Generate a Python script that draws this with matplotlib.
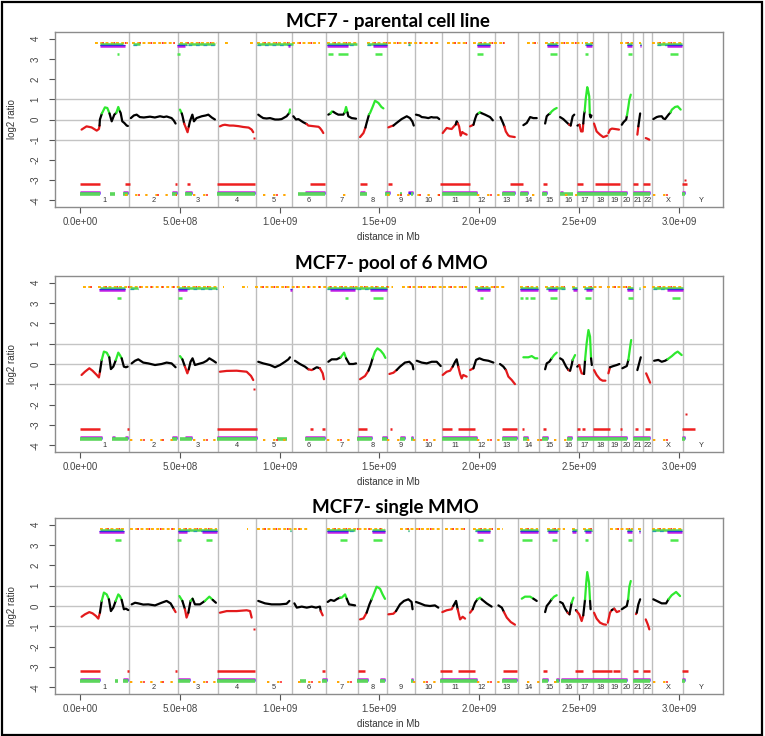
import matplotlib
matplotlib.use('Agg')
import matplotlib.pyplot as plt
from matplotlib.patches import Rectangle

chrom_names = ['1', '2', '3', '4', '5', '6', '7', '8', '9', '10', '11', '12', '13',
               '14', '15', '16', '17', '18', '19', '20', '21', '22', 'X', 'Y']
chrom_len_mb = [247.2, 242.95, 199.5, 191.27, 180.86, 170.9, 158.8, 146.27, 140.27,
                135.37, 134.45, 132.35, 114.14, 106.37, 100.34, 88.83, 78.77, 76.12,
                63.81, 62.44, 46.94, 49.69, 154.91, 178.0]

titles = ['MCF7 - parental cell line', 'MCF7- pool of 6 MMO', 'MCF7- single MMO']
x_ticks = [0, 5e8, 1e9, 1.5e9, 2e9, 2.5e9, 3e9]
x_tick_labels = ['0.0e+00', '5.0e+08', '1.0e+09', '1.5e+09', '2.0e+09', '2.5e+09', '3.0e+09']
y_ticks = [-4, -3, -2, -1, 0, 1, 2, 3, 4]

# smoothed log2 ratio, pieces of (call, [(Mb, log2)])
p1_curve = [
    ('r', [(8, -0.5), (33, -0.34), (58, -0.39), (84, -0.55), (95, -0.47), (98, -0.3)]),
    ('k', [(98, -0.3), (100, 0.0), (110, 0.3)]),
    ('g', [(110, 0.3), (125, 0.6), (137, 0.57), (148, 0.3)]),
    ('k', [(148, 0.3), (159, -0.09), (172, 0.24), (182, 0.33)]),
    ('g', [(182, 0.33), (192, 0.62), (200, 0.4)]),
    ('k', [(200, 0.4), (204, 0.32), (212, -0.09), (222, -0.17), (234, -0.3), (240, -0.32)]),
    ('k', [(255, 0.07), (270, 0.2), (284, 0.24), (300, 0.12), (320, 0.1), (351, 0.14), (375, 0.1),
           (401, 0.16), (420, 0.12), (434, 0.15), (459, 0.07), (470, -0.05), (479, -0.2)]),
    ('g', [(501, 0.49), (510, 0.3)]),
    ('k', [(510, 0.3), (514, 0.16), (522, -0.2)]),
    ('r', [(522, -0.2), (530, -0.4), (539, -0.63), (545, -0.35)]),
    ('k', [(545, -0.35), (551, -0.09), (563, 0.24), (571, -0.09), (584, 0.07), (610, 0.16),
           (630, 0.2), (643, 0.24), (660, 0.1), (676, 0.0)]),
    ('r', [(701, -0.34), (715, -0.28), (726, -0.26), (750, -0.3), (768, -0.3), (795, -0.33),
           (818, -0.37), (845, -0.4), (860, -0.5), (868, -0.63)]),
    ('k', [(893, 0.24), (905, 0.15), (918, 0.07), (935, 0.05), (952, 0.07), (977, 0.0), (995, 0.0),
           (1010, 0.02), (1035, 0.16), (1049, 0.33)]),
    ('g', [(1049, 0.33), (1052, 0.5)]),
    ('k', [(1069, 0.16), (1082, 0.0), (1094, 0.02), (1105, -0.05), (1119, -0.14), (1135, -0.22)]),
    ('r', [(1135, -0.22), (1144, -0.3), (1160, -0.32), (1177, -0.34), (1195, -0.36), (1202, -0.42),
           (1212, -0.55), (1219, -0.67)]),
    ('k', [(1244, 0.24), (1255, 0.3)]),
    ('g', [(1255, 0.3), (1262, 0.4), (1269, 0.38)]),
    ('k', [(1269, 0.38), (1282, 0.3), (1294, 0.24), (1319, 0.24), (1326, 0.35)]),
    ('g', [(1326, 0.35), (1333, 0.62), (1340, 0.35)]),
    ('k', [(1340, 0.35), (1344, 0.16), (1361, 0.07), (1383, 0.04)]),
    ('r', [(1403, -0.87), (1420, -0.67), (1430, -0.4)]),
    ('k', [(1430, -0.4), (1436, -0.17), (1448, 0.25)]),
    ('g', [(1448, 0.25), (1453, 0.32), (1465, 0.6), (1478, 0.93), (1495, 0.82), (1510, 0.62), (1520, 0.55)]),
    ('r', [(1545, -0.39), (1560, -0.33), (1570, -0.3)]),
    ('k', [(1570, -0.3), (1586, -0.17), (1611, 0.02), (1637, 0.16), (1653, 0.07), (1665, -0.1), (1672, -0.3)]),
    ('k', [(1683, 0.24), (1700, 0.2), (1712, 0.12), (1730, 0.1), (1745, 0.07), (1760, 0.12), (1770, 0.1),
           (1790, 0.1), (1800, 0.02)]),
    ('r', [(1817, -0.67), (1837, -0.42), (1850, -0.45), (1862, -0.47), (1875, -0.32), (1882, -0.25)]),
    ('k', [(1882, -0.25), (1887, -0.09), (1893, -0.2)]),
    ('r', [(1893, -0.2), (1899, -0.34), (1907, -0.8), (1915, -0.62), (1921, -0.67), (1937, -0.75)]),
    ('r', [(1954, -0.34), (1971, -0.26)]),
    ('k', [(1971, -0.26), (1980, 0.05), (1987, 0.24), (1998, 0.32)]),
    ('g', [(1998, 0.32), (2004, 0.37), (2010, 0.32)]),
    ('k', [(2010, 0.32), (2029, 0.24), (2054, 0.12), (2068, -0.04)]),
    ('k', [(2106, 0.12), (2119, -0.17), (2126, -0.35)]),
    ('r', [(2126, -0.35), (2133, -0.59), (2145, -0.78), (2153, -0.83), (2178, -0.87)]),
    ('k', [(2221, -0.28), (2238, -0.17), (2255, 0.12), (2271, 0.07), (2288, 0.07)]),
    ('k', [(2330, -0.2), (2338, 0.16), (2346, 0.24), (2355, 0.3)]),
    ('g', [(2355, 0.3), (2363, 0.4), (2375, 0.5), (2388, 0.57)]),
    ('k', [(2405, 0.12), (2421, 0.02), (2438, -0.14), (2450, -0.25)]),
    ('r', [(2450, -0.25), (2458, -0.3)]),
    ('k', [(2458, -0.3), (2468, 0.16), (2476, 0.24)]),
    ('k', [(2492, -0.3), (2502, -0.26)]),
    ('r', [(2502, -0.26), (2510, -0.59), (2518, -0.59), (2521, -0.2)]),
    ('k', [(2521, -0.2), (2525, 0.24), (2528, 0.4)]),
    ('g', [(2528, 0.4), (2533, 0.98), (2541, 1.6), (2546, 1.4), (2551, 1.15), (2554, 0.24)]),
    ('k', [(2554, 0.24), (2558, 0.1), (2562, 0.2)]),
    ('r', [(2575, -0.2), (2588, -0.59), (2605, -0.75), (2621, -0.87), (2633, -0.83), (2640, -0.8)]),
    ('r', [(2647, -0.67), (2655, -0.5), (2665, -0.45), (2680, -0.47), (2700, -0.5)]),
    ('k', [(2714, -0.26), (2722, -0.14), (2736, 0.0), (2740, 0.2)]),
    ('g', [(2740, 0.2), (2742, 0.32), (2748, 0.7), (2752, 0.98), (2759, 1.23)]),
    ('r', [(2792, -0.75), (2797, -0.34)]),
    ('k', [(2797, -0.34), (2802, 0.02), (2806, 0.3)]),
    ('r', [(2834, -0.92), (2842, -0.95), (2852, -1.0)]),
    ('k', [(2872, 0.02), (2889, 0.12), (2900, 0.15), (2914, 0.16), (2922, 0.05), (2931, 0.02),
           (2948, 0.24), (2958, 0.35)]),
    ('g', [(2958, 0.35), (2965, 0.49), (2981, 0.62), (2994, 0.65), (3009, 0.49)]),
]

p2_curve = [
    ('r', [(8, -0.54), (25, -0.38), (47, -0.21), (63, -0.33), (84, -0.54), (95, -0.66), (100, -0.38)]),
    ('k', [(100, -0.38), (109, 0.2)]),
    ('g', [(109, 0.2), (120, 0.61), (134, 0.56), (147, 0.33)]),
    ('k', [(147, 0.33), (155, -0.25), (167, -0.13), (180, 0.2)]),
    ('g', [(180, 0.2), (192, 0.56), (200, 0.44), (209, 0.28)]),
    ('k', [(209, 0.28), (220, -0.13), (230, -0.16), (239, -0.13)]),
    ('k', [(259, 0.03), (276, 0.16), (292, 0.23), (317, 0.07), (342, 0.03), (376, -0.05), (409, 0.0),
           (434, 0.07), (459, 0.03), (479, -0.16)]),
    ('g', [(501, 0.39), (513, 0.23)]),
    ('k', [(513, 0.23), (526, -0.13)]),
    ('r', [(526, -0.13), (538, -0.46), (545, -0.26)]),
    ('k', [(545, -0.26), (554, 0.11), (564, 0.28), (576, -0.05), (593, 0.0), (618, 0.07), (635, 0.16),
           (648, 0.28), (668, 0.16), (681, 0.07)]),
    ('r', [(701, -0.38), (735, -0.34), (785, -0.33), (835, -0.38), (857, -0.59), (868, -0.79)]),
    ('k', [(893, 0.11), (918, 0.03), (952, -0.05), (977, -0.16), (1002, -0.05), (1027, 0.11),
           (1044, 0.23), (1052, 0.33)]),
    ('k', [(1077, 0.16), (1102, 0.0), (1127, -0.13), (1144, -0.26)]),
    ('r', [(1144, -0.26), (1161, -0.3), (1170, -0.25)]),
    ('k', [(1170, -0.25), (1186, -0.16), (1202, -0.21)]),
    ('r', [(1202, -0.21), (1216, -0.46), (1222, -0.75)]),
    ('k', [(1244, 0.11), (1261, 0.23), (1286, 0.23), (1306, 0.33)]),
    ('g', [(1306, 0.33), (1323, 0.56), (1333, 0.28)]),
    ('k', [(1333, 0.28), (1349, 0.0), (1369, 0.0), (1383, 0.03)]),
    ('r', [(1403, -0.75), (1428, -0.59), (1445, -0.33)]),
    ('k', [(1445, -0.33), (1456, -0.05), (1466, 0.28)]),
    ('g', [(1466, 0.28), (1478, 0.61), (1490, 0.77), (1506, 0.66), (1520, 0.49), (1530, 0.3)]),
    ('r', [(1550, -0.49), (1570, -0.43), (1586, -0.3)]),
    ('k', [(1586, -0.3), (1603, -0.13), (1628, 0.07), (1650, 0.11), (1666, -0.05), (1670, -0.26)]),
    ('k', [(1687, 0.16), (1712, 0.07), (1737, 0.03), (1762, 0.11), (1787, 0.11), (1807, -0.1)]),
    ('r', [(1817, -0.54), (1837, -0.38), (1854, -0.33), (1867, -0.13)]),
    ('k', [(1867, -0.13), (1879, 0.11), (1887, 0.23), (1895, -0.13)]),
    ('r', [(1895, -0.13), (1904, -0.49), (1912, -0.71), (1920, -0.54), (1937, -0.62)]),
    ('r', [(1954, -0.3), (1971, -0.21)]),
    ('k', [(1971, -0.21), (1984, 0.2), (2001, 0.28), (2021, 0.2), (2046, 0.16), (2071, 0.07)]),
    ('k', [(2104, 0.0), (2121, -0.13), (2134, -0.3)]),
    ('r', [(2134, -0.3), (2146, -0.62), (2163, -0.79), (2179, -0.99)]),
    ('g', [(2221, 0.33), (2246, 0.33), (2263, 0.39), (2280, 0.28), (2291, 0.28)]),
    ('k', [(2330, -0.26), (2338, 0.03), (2351, 0.11), (2363, 0.28)]),
    ('g', [(2363, 0.28), (2375, 0.44), (2388, 0.56)]),
    ('k', [(2405, 0.28), (2418, 0.2), (2435, -0.13), (2447, -0.3)]),
    ('r', [(2447, -0.3), (2455, -0.33)]),
    ('k', [(2455, -0.33), (2463, -0.05), (2468, 0.2)]),
    ('g', [(2468, 0.2), (2480, 0.44)]),
    ('k', [(2491, -0.13), (2501, -0.05)]),
    ('r', [(2501, -0.05), (2505, -0.21), (2513, -0.46), (2525, -0.49)]),
    ('k', [(2525, -0.49), (2530, 0.2)]),
    ('g', [(2530, 0.2), (2538, 1.02), (2547, 1.67), (2555, 1.35), (2560, 0.28)]),
    ('k', [(2560, 0.28), (2564, -0.05)]),
    ('r', [(2575, -0.3), (2588, -0.54), (2605, -0.75), (2618, -0.82), (2632, -0.82)]),
    ('r', [(2647, -0.46), (2655, -0.16)]),
    ('k', [(2655, -0.16), (2672, -0.1), (2689, -0.05), (2702, 0.0)]),
    ('k', [(2717, -0.21), (2727, -0.16), (2739, -0.1), (2747, 0.2)]),
    ('g', [(2747, 0.2), (2756, 0.85), (2761, 1.18)]),
    ('r', [(2789, -0.3), (2792, -0.3)]),
    ('k', [(2792, -0.3), (2802, 0.07), (2809, 0.33)]),
    ('r', [(2836, -0.46), (2847, -0.71), (2856, -0.92)]),
    ('k', [(2876, 0.16), (2897, 0.2), (2914, 0.11), (2931, 0.16), (2943, 0.23)]),
    ('g', [(2943, 0.23), (2965, 0.39), (2981, 0.53), (2994, 0.61), (3014, 0.44)]),
]

p3_curve = [
    ('r', [(8, -0.53), (25, -0.41), (47, -0.3), (63, -0.36), (80, -0.49), (92, -0.62), (100, -0.33)]),
    ('k', [(100, -0.33), (109, 0.25)]),
    ('g', [(109, 0.25), (120, 0.66), (134, 0.57), (145, 0.33)]),
    ('k', [(145, 0.33), (155, -0.25), (167, -0.08), (179, 0.25)]),
    ('g', [(179, 0.25), (192, 0.57), (200, 0.49), (209, 0.3)]),
    ('k', [(209, 0.3), (220, -0.16), (230, -0.13), (242, -0.2)]),
    ('k', [(259, 0.08), (276, 0.16), (292, 0.13), (317, 0.07), (342, 0.08), (376, 0.03), (409, 0.16),
           (434, 0.25), (454, 0.13), (471, -0.16)]),
    ('r', [(471, -0.16), (479, -0.3)]),
    ('g', [(498, 0.49), (513, 0.25)]),
    ('k', [(513, 0.25), (526, -0.16)]),
    ('r', [(526, -0.16), (534, -0.57), (543, -0.33)]),
    ('k', [(543, -0.33), (554, 0.25)]),
    ('g', [(554, 0.25), (564, 0.36)]),
    ('k', [(564, 0.36), (576, 0.08), (601, 0.08), (626, 0.25)]),
    ('g', [(626, 0.25), (648, 0.46), (665, 0.3)]),
    ('k', [(665, 0.3), (681, 0.16)]),
    ('r', [(701, -0.33), (735, -0.25), (785, -0.25), (835, -0.21), (852, -0.25), (860, -0.57)]),
    ('k', [(893, 0.25), (927, 0.13), (960, 0.08), (1002, 0.08), (1035, 0.11), (1049, 0.25)]),
    ('k', [(1074, 0.13), (1086, -0.08), (1111, -0.03), (1136, -0.08), (1161, -0.03), (1182, -0.08),
           (1202, -0.03), (1206, -0.25)]),
    ('r', [(1206, -0.25), (1216, -0.46)]),
    ('k', [(1241, 0.2), (1256, 0.3), (1273, 0.25), (1290, 0.36), (1303, 0.41)]),
    ('g', [(1303, 0.41), (1311, 0.41), (1328, 0.57), (1336, 0.36)]),
    ('k', [(1336, 0.36), (1348, 0.08), (1378, 0.03)]),
    ('r', [(1403, -0.66), (1420, -0.61), (1436, -0.33)]),
    ('k', [(1436, -0.33), (1450, 0.08), (1461, 0.33)]),
    ('g', [(1461, 0.33), (1473, 0.62), (1486, 0.95), (1503, 0.85), (1516, 0.57), (1528, 0.35)]),
    ('r', [(1545, -0.41), (1570, -0.38), (1583, -0.25)]),
    ('k', [(1583, -0.25), (1603, 0.08), (1623, 0.25), (1645, 0.33), (1661, 0.2), (1666, -0.16)]),
    ('k', [(1683, 0.2), (1703, 0.13), (1728, 0.03), (1753, 0.0), (1778, 0.03), (1795, -0.08)]),
    ('r', [(1815, -0.3), (1837, -0.21), (1862, -0.16), (1870, 0.0)]),
    ('k', [(1870, 0.0), (1884, 0.25), (1892, -0.16)]),
    ('r', [(1892, -0.16), (1904, -0.66), (1917, -0.53), (1929, -0.62)]),
    ('r', [(1954, -0.33), (1967, -0.16)]),
    ('k', [(1967, -0.16), (1979, 0.16), (1991, 0.33)]),
    ('g', [(1991, 0.33), (2004, 0.41), (2012, 0.33)]),
    ('k', [(2012, 0.33), (2037, 0.13), (2062, -0.03)]),
    ('k', [(2096, 0.03), (2113, -0.08), (2124, -0.3)]),
    ('r', [(2124, -0.3), (2138, -0.57), (2158, -0.79), (2179, -0.92)]),
    ('g', [(2213, 0.36), (2229, 0.46), (2255, 0.46), (2271, 0.36)]),
    ('k', [(2271, 0.36), (2288, 0.25)]),
    ('k', [(2330, -0.3), (2338, 0.0), (2351, 0.16), (2363, 0.33)]),
    ('g', [(2363, 0.33), (2375, 0.46), (2388, 0.53)]),
    ('k', [(2405, 0.2), (2418, 0.13), (2430, -0.13), (2443, -0.33)]),
    ('r', [(2443, -0.33), (2452, -0.41)]),
    ('k', [(2452, -0.41), (2463, 0.16)]),
    ('g', [(2463, 0.16), (2472, 0.41)]),
    ('k', [(2484, -0.2), (2488, -0.25)]),
    ('r', [(2488, -0.25), (2501, -0.41), (2513, -0.74), (2521, -0.46)]),
    ('k', [(2521, -0.46), (2530, 0.33)]),
    ('g', [(2530, 0.33), (2536, 1.15), (2541, 1.67), (2550, 1.15), (2555, 0.25)]),
    ('k', [(2555, 0.25), (2558, -0.16)]),
    ('r', [(2575, -0.33), (2588, -0.62), (2605, -0.82), (2622, -0.9), (2635, -0.92)]),
    ('r', [(2644, -0.82), (2655, -0.33), (2664, -0.2)]),
    ('k', [(2664, -0.2), (2676, -0.13)]),
    ('r', [(2676, -0.13), (2689, -0.3), (2702, -0.25)]),
    ('k', [(2714, -0.16), (2726, -0.08), (2739, 0.0), (2746, 0.33)]),
    ('g', [(2746, 0.33), (2752, 0.95), (2759, 1.23)]),
    ('r', [(2785, -0.4), (2789, -0.33)]),
    ('k', [(2789, -0.33), (2797, 0.08), (2806, 0.33)]),
    ('r', [(2834, -0.66), (2844, -0.9), (2852, -1.15)]),
    ('k', [(2872, 0.33), (2889, 0.25), (2914, 0.13), (2936, 0.13), (2948, 0.33)]),
    ('g', [(2948, 0.33), (2964, 0.53), (2986, 0.69), (3006, 0.49)]),
]

# stray single probes (Mb, log2)
p1_points = [(872, -0.92), (3031, -2.98)]
p2_points = [(872, -1.25), (3036, -2.46)]
p3_points = [(872, -1.15)]

# called gain / loss regions (start Mb, end Mb)
p1_top_dots = [(75, 242), (259, 476), (501, 685), (726, 752), (852, 868), (885, 1052), (1061, 1202),
               (1236, 1386), (1436, 1803), (1837, 1937), (1971, 2129), (2238, 2296), (2330, 2522),
               (2530, 2572), (2705, 2772), (2800, 2812), (2864, 3014)]
p1_top_green = [(100, 217), (267, 301), (493, 534), (543, 676), (885, 1069), (1236, 1386), (1436, 1536),
                (1645, 1655), (1987, 2054), (2338, 2388), (2530, 2563), (2739, 2764), (2803, 2809),
                (2889, 3014)]
p1_top_magenta = [(100, 225), (484, 526), (1040, 1050), (1236, 1345), (1470, 1536), (1987, 2054),
                  (2338, 2396), (2535, 2563), (2739, 2764), (2803, 2809), (2939, 3014)]
p1_top_low = [(184, 197), (484, 501), (1244, 1269), (1294, 1344), (1478, 1511), (1987, 2020),
              (2355, 2388), (2530, 2547), (2747, 2764), (2956, 2998)]
p1_bot_red = [(0, 100), (225, 250), (476, 484), (534, 551), (685, 877), (1152, 1227), (1403, 1436),
              (1545, 1561), (1803, 1954), (2153, 2221), (2321, 2338), (2488, 2522), (2580, 2705),
              (2772, 2797), (2822, 2856), (3014, 3039)]
p1_bot_blue = [(0, 100), (217, 242), (459, 484), (526, 559), (685, 877), (1127, 1227), (1403, 1428),
               (1528, 1553), (1645, 1670), (1812, 1987), (2112, 2179), (2204, 2246), (2313, 2338),
               (2405, 2421), (2488, 2739), (2772, 2856), (3014, 3031)]
p1_bot_green = [(0, 100), (150, 175), (217, 242), (459, 484), (526, 559), (685, 877), (1094, 1227),
                (1403, 1436), (1528, 1553), (1603, 1612), (1660, 1670), (1812, 1987), (2112, 2179),
                (2204, 2246), (2313, 2338), (2405, 2472), (2488, 2739), (2772, 2856), (3014, 3031)]
p1_bot_dots = [(225, 484), (568, 668), (918, 1052), (1319, 1369), (1536, 1803), (1987, 2104),
               (2263, 2305), (2430, 2488), (2870, 2970)]

p2_top_dots = [(17, 58), (92, 685), (716, 720), (810, 843), (877, 1570), (1612, 1812), (1820, 1937),
               (1979, 2129), (2204, 2296), (2330, 2430), (2463, 2488), (2522, 2613), (2639, 2772),
               (2822, 2840), (2864, 3014)]
p2_top_green = [(100, 225), (250, 292), (493, 685), (1236, 1536), (1979, 2054), (2204, 2296),
                (2335, 2430), (2463, 2488), (2525, 2572), (2739, 2772), (2800, 2806), (2872, 3019)]
p2_top_magenta = [(97, 225), (493, 534), (1052, 1060), (1252, 1378), (1453, 1536), (1987, 2054),
                  (2204, 2296), (2346, 2388), (2468, 2488), (2535, 2563), (2739, 2769), (2939, 3019)]
p2_top_low = [(184, 204), (493, 509), (1328, 1344), (1470, 1520), (2004, 2020), (2204, 2220),
              (2230, 2246), (2255, 2280), (2355, 2388), (2530, 2558), (2747, 2769), (2965, 3006)]
p2_bot_red = [(0, 100), (237, 244), (685, 885), (1152, 1169), (1211, 1227), (1394, 1436), (1553, 1565),
              (1812, 1862), (1896, 1979), (2112, 2187), (2213, 2222), (2320, 2336), (2488, 2505),
              (2513, 2530), (2572, 2655), (2705, 2714), (2780, 2797), (2830, 2856), (3014, 3081)]
p2_bot_blue = [(0, 109), (159, 175), (225, 242), (459, 484), (526, 559), (685, 885), (1127, 1227),
               (1386, 1461), (1511, 1536), (1603, 1628), (1660, 1670), (1812, 1987), (2112, 2187),
               (2221, 2246), (2313, 2346), (2438, 2463), (2488, 2739), (2772, 2856), (3014, 3031)]
p2_bot_green = [(0, 109), (159, 242), (459, 484), (500, 559), (685, 885), (985, 1035), (1127, 1227),
                (1386, 1461), (1511, 1536), (1603, 1628), (1660, 1670), (1812, 1987), (2112, 2187),
                (2221, 2246), (2313, 2346), (2438, 2463), (2488, 2739), (2772, 2856), (3014, 3031)]
p2_bot_dots = [(250, 476), (568, 685), (918, 1052), (1236, 1386), (1536, 1603), (1670, 1812),
               (1987, 2104), (2238, 2313), (2372, 2438), (2870, 2970)]

p3_top_dots = [(100, 225), (250, 476), (493, 685), (835, 840), (885, 1144), (1236, 1528), (1603, 1803),
               (1830, 1930), (1970, 2071), (2088, 2121), (2204, 2296), (2338, 2430), (2463, 2488),
               (2522, 2563), (2655, 2772), (2797, 2812), (2864, 3014)]
p3_top_green = [(100, 217), (493, 685), (1052, 1058), (1236, 1378), (1461, 1528), (1645, 1650),
                (1979, 2054), (2204, 2296), (2338, 2396), (2463, 2488), (2525, 2563), (2739, 2764),
                (2800, 2806), (2864, 3014)]
p3_top_magenta = [(97, 222), (493, 534), (610, 685), (1236, 1344), (1461, 1528), (1987, 2054),
                  (2204, 2296), (2346, 2388), (2463, 2486), (2530, 2558), (2739, 2764), (2799, 2806),
                  (2939, 3014)]
p3_top_low = [(175, 204), (484, 504), (631, 660), (1303, 1336), (1470, 1511), (1995, 2020), (2213, 2263),
              (2363, 2388), (2530, 2547), (2747, 2764), (2956, 2998)]
p3_bot_red = [(0, 100), (237, 244), (476, 484), (685, 877), (1211, 1227), (1394, 1428), (1803, 1862),
              (1896, 1979), (2121, 2187), (2320, 2337), (2480, 2522), (2563, 2664), (2672, 2705),
              (2772, 2797), (2822, 2856), (3014, 3048)]
p3_bot_blue = [(0, 100), (217, 242), (493, 551), (685, 877), (1211, 1236), (1386, 1445), (1503, 1528),
               (1660, 1670), (1803, 1987), (2112, 2187), (2313, 2346), (2385, 2402), (2410, 2739),
               (2772, 2856), (3014, 3031)]
p3_bot_green = [(0, 100), (175, 190), (217, 242), (493, 551), (685, 877), (1100, 1130), (1211, 1236),
                (1386, 1445), (1503, 1528), (1660, 1670), (1803, 1987), (2112, 2187), (2313, 2346),
                (2385, 2402), (2410, 2739), (2772, 2856), (3014, 3031)]
p3_bot_dots = [(250, 467), (568, 685), (935, 1035), (1094, 1236), (1286, 1386), (1670, 1803),
               (1987, 2104), (2238, 2305), (2372, 2410), (2870, 2970)]

curves = [p1_curve, p2_curve, p3_curve]
points = [p1_points, p2_points, p3_points]
bands = [
    [p1_top_dots, p1_top_green, p1_top_magenta, p1_top_low, p1_bot_red, p1_bot_blue, p1_bot_green, p1_bot_dots],
    [p2_top_dots, p2_top_green, p2_top_magenta, p2_top_low, p2_bot_red, p2_bot_blue, p2_bot_green, p2_bot_dots],
    [p3_top_dots, p3_top_green, p3_top_magenta, p3_top_low, p3_bot_red, p3_bot_blue, p3_bot_green, p3_bot_dots],
]

W, H = 765, 736
panel_tops = [32, 276, 518]
panel_bottoms = [207, 452, 694]
title_y = [22, 263, 508]
title_x = [388, 391, 395]
ax_left, ax_right = 55, 723

line_colors = {'k': '#000000', 'r': '#e31a1c', 'g': '#2ee82e'}
grey = '#bdbdbd'


def draw_hlines(ax, intervals, y, color, lw, ls='solid'):
    starts = [a * 1e6 for a, b in intervals]
    ends = [b * 1e6 for a, b in intervals]
    ax.hlines([y] * len(starts), starts, ends, colors=color, linewidth=lw, linestyles=ls)


def draw_panel(ax, curve, pts, bb):
    cum = [0]
    for l in chrom_len_mb:
        cum.append(cum[-1] + l)
    for b in cum[1:-1]:
        ax.axvline(b * 1e6, color=grey, lw=1.0, zorder=1)
    for y in [-1, 0, 1]:
        ax.axhline(y, color='#c4c4c4', lw=1.0, zorder=1)

    top_dots, top_green, top_mag, top_low, bot_red, bot_blue, bot_green, bot_dots = bb
    draw_hlines(ax, top_dots, 3.80, '#ffb000', 1.4, (0, (1.5, 1.2)))
    draw_hlines(ax, top_dots, 3.80, '#ff3030', 1.4, (2, (0.8, 5)))
    draw_hlines(ax, top_green, 3.73, '#55d655', 1.8)
    draw_hlines(ax, top_green, 3.71, '#2a9fae', 0.9, (0, (3, 3)))
    draw_hlines(ax, top_mag, 3.64, '#c81ee6', 1.8)
    draw_hlines(ax, top_mag, 3.67, '#3030e0', 0.9)
    draw_hlines(ax, top_low, 3.23, '#4de84d', 1.8)
    draw_hlines(ax, bot_red, -3.18, '#ee2020', 1.8)
    draw_hlines(ax, bot_blue, -3.57, '#d21ee0', 1.8)
    draw_hlines(ax, bot_blue, -3.62, '#2828f0', 1.8)
    draw_hlines(ax, bot_green, -3.70, '#5cd65c', 2.6)
    draw_hlines(ax, bot_dots, -3.75, '#ffa600', 1.4, (0, (1.2, 4)))
    draw_hlines(ax, bot_dots, -3.75, '#ff2020', 1.4, (3, (0.8, 9)))

    for call, seg in curve:
        xs = [p[0] * 1e6 for p in seg]
        ys = [p[1] for p in seg]
        ax.plot(xs, ys, color=line_colors[call], lw=1.6, solid_capstyle='round', zorder=3)
    for x, y in pts:
        ax.plot([x * 1e6], [y], 's', ms=1.6, color='#e31a1c', mec='none', zorder=3)

    for i, name in enumerate(chrom_names):
        mid = (cum[i] + cum[i + 1]) / 2 * 1e6
        ax.text(mid, -4.02, name, ha='center', va='center', fontsize=5.3, color='#333333',
                family='Liberation Sans')

    ax.set_xlim(-125e6, 3221e6)
    ax.set_ylim(-4.33, 4.33)
    ax.set_xticks(x_ticks)
    ax.set_xticklabels(x_tick_labels)
    ax.set_yticks(y_ticks)
    ax.set_yticklabels([str(t) for t in y_ticks], rotation=90, va='center')
    ax.tick_params(length=4.5, width=0.8, color='#555555', labelsize=7, labelcolor='#444444', pad=3)
    ax.tick_params(axis='y', pad=6)
    for lab in ax.get_xticklabels() + ax.get_yticklabels():
        lab.set_family('Liberation Sans')
    for sp in ax.spines.values():
        sp.set_color('#8c8c8c')
        sp.set_linewidth(1.0)


fig = plt.figure(figsize=(W / 100, H / 100), dpi=100)
for i in range(3):
    top, bot = panel_tops[i], panel_bottoms[i]
    ax = fig.add_axes([ax_left / W, 1 - bot / H, (ax_right - ax_left) / W, (bot - top) / H])
    draw_panel(ax, curves[i], points[i], bands[i])
    fig.text(title_x[i] / W, 1 - title_y[i] / H, titles[i], ha='center', va='center',
             fontsize=13.5, fontweight='bold', family=['Lato', 'DejaVu Sans'])
    fig.text(388 / W, 1 - (bot + 30) / H, 'distance in Mb', ha='center', va='center',
             fontsize=7, color='#333333', family='Liberation Sans')
    fig.text(12 / W, 1 - (top + bot) / 2 / H, 'log2 ratio', ha='center', va='center',
             rotation=90, fontsize=7, color='#333333', family='Liberation Sans')

fig.add_artist(Rectangle((1.5 / W, 1.5 / H), 760 / W, 733 / H, transform=fig.transFigure,
                         fill=False, lw=1.6, ec='black'))

plt.savefig('out.png', dpi=100)
